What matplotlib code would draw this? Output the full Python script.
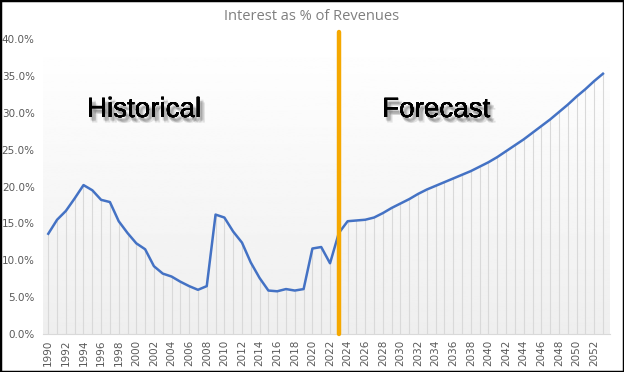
import matplotlib.pyplot as plt
import matplotlib.patheffects as pe
from matplotlib.patches import Rectangle
import numpy as np

# Interest as % of revenues, actuals through 2022 then forecast
years = list(range(1990, 2054))
interest_pct = [
    13.6, 15.5, 16.7, 18.4, 20.2, 19.5, 18.2, 17.9, 15.3, 13.7,
    12.3, 11.5, 9.2, 8.2, 7.8, 7.1, 6.5, 6.0, 6.5, 16.2,
    15.8, 13.9, 12.4, 9.7, 7.6, 5.9, 5.8, 6.1, 5.9, 6.1,
    11.6, 11.8, 9.6, 13.7, 15.3, 15.4, 15.5, 15.8, 16.4, 17.1,
    17.7, 18.3, 19.0, 19.6, 20.1, 20.6, 21.1, 21.6, 22.1, 22.7,
    23.3, 24.0, 24.8, 25.6, 26.4, 27.3, 28.2, 29.1, 30.1, 31.1,
    32.2, 33.2, 34.3, 35.3,
]
split_year = 2023
tick_years = list(range(1990, 2053, 2))
y_ticks = [0, 5, 10, 15, 20, 25, 30, 35, 40]

fig = plt.figure(figsize=(6.24, 3.72), dpi=100)
fig.patch.set_facecolor("white")
ax = fig.add_axes([43 / 624, 0.102, (610 - 43) / 624, 0.793])

xmin, xmax = 1989.4, 2053.8
ax.set_xlim(xmin, xmax)
ax.set_ylim(0, 40)

# plot area gradient, white at top to light gray at bottom
grad = np.linspace(1.0, 0.935, 256).reshape(-1, 1)
ax.imshow(grad, extent=[xmin, xmax, 0, 40], aspect="auto", cmap="gray",
          vmin=0, vmax=1, origin="upper", zorder=0)

# drop lines + series
ax.vlines(years, 0, interest_pct, color="#d9d9d9", linewidth=0.8, zorder=1)
ax.plot(years, interest_pct, color="#4472C4", linewidth=1.8, zorder=3)

# historical / forecast divider
ax.plot([split_year, split_year], [0, 40.9], color="#F5A800", linewidth=3.2,
        solid_capstyle="round", clip_on=False, zorder=4)

ax.set_yticks(y_ticks)
ax.set_yticklabels([f"{v:.1f}%" for v in y_ticks])
ax.set_xticks(tick_years)
ax.set_xticklabels([str(y) for y in tick_years], rotation=90)
ax.tick_params(axis="both", length=0, labelsize=7.5, labelcolor="#595959")
ax.tick_params(axis="x", pad=4)
ax.tick_params(axis="y", pad=6)
for side in ["top", "right", "left"]:
    ax.spines[side].set_visible(False)
ax.spines["bottom"].set_color("#d9d9d9")

fig.text(0.5, 0.955, "Interest as % of Revenues", ha="center", va="center",
         fontsize=10.5, color="#7f7f7f", family="Open Sans")

# soft blurred shadow: stack of faint offset copies
shadow = []
for dx, dy in [(1, -2), (2, -3), (3, -3), (2, -4), (3, -2), (1, -3), (4, -4)]:
    shadow.append(pe.withSimplePatchShadow(offset=(dx, dy), shadow_rgbFace="#333333", alpha=0.12))
shadow.append(pe.Normal())
fig.text(144 / 624, 1 - 117 / 372, "Historical", ha="center", va="baseline",
         fontsize=20, color="black", family="Liberation Sans", path_effects=shadow)
fig.text(436 / 624, 1 - 117 / 372, "Forecast", ha="center", va="baseline",
         fontsize=20, color="black", family="Liberation Sans", path_effects=shadow)

# black frame around the whole picture
fig.patches.append(Rectangle((0, 0), 1, 1, transform=fig.transFigure, fill=False,
                             edgecolor="black", linewidth=2.5))

fig.savefig("out.png", dpi=100)
